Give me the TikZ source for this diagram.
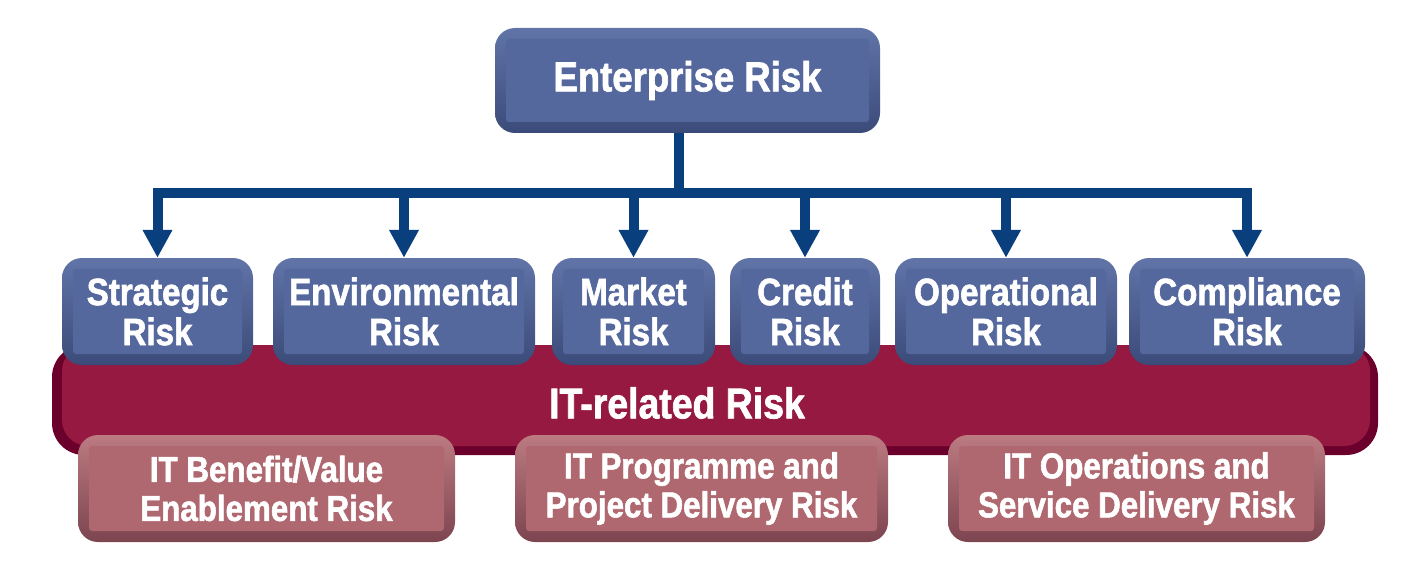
\documentclass[tikz,border=0pt]{standalone}
\usepackage{fontspec}
\setmainfont{Liberation Sans}[FakeStretch=0.87, BoldFeatures={FakeBold=1.6}]
\usetikzlibrary{arrows.meta}

\definecolor{linkblue}{HTML}{0A3F7E}
\definecolor{bluerimtop}{HTML}{6174A8}
\definecolor{bluerimbot}{HTML}{3B4B79}
\definecolor{blueface}{HTML}{55689D}
\definecolor{roserimtop}{HTML}{BC7A81}
\definecolor{roserimbot}{HTML}{7C4550}
\definecolor{roseface}{HTML}{AF686F}
\definecolor{bandrim}{HTML}{6C002C}
\definecolor{bandface}{HTML}{951941}

\begin{document}
\begin{tikzpicture}[x=1pt, y=-1pt,
        bevel/.style={rounded corners=20pt, inner sep=0pt, align=center, text=white,
            path picture={\fill[#1, rounded corners=3pt]
                ([shift={(11pt,-11pt)}]path picture bounding box.north west) rectangle
                ([shift={(-11pt,11pt)}]path picture bounding box.south east);}},
        riskbox/.style={bevel=blueface, top color=bluerimtop, bottom color=bluerimbot,
            minimum height=107pt, font=\bfseries\fontsize{38}{40}\selectfont},
        itbox/.style={bevel=roseface, top color=roserimtop, bottom color=roserimbot,
            minimum height=107pt, font=\bfseries\fontsize{36}{39}\selectfont},
        link/.style={draw=linkblue, line width=10pt}
    ]
    \useasboundingbox (0,0) rectangle (1411,575);

    % IT-related band (behind both rows)
    \node[fill=bandrim, rounded corners=32pt, minimum width=1326pt, minimum height=110pt,
        path picture={\fill[bandface, rounded corners=26pt]
            ([shift={(10pt,0pt)}]path picture bounding box.north west) rectangle
            ([shift={(-8pt,9pt)}]path picture bounding box.south east);}]
        (itband) at (715,400) {};
    \node[text=white, font=\bfseries\fontsize{43}{45}\selectfont] (itlabel) at (677,403) {IT-related Risk};

    % Top box
    \node[riskbox, minimum width=385pt, minimum height=105pt, font=\bfseries\fontsize{42}{44}\selectfont]
        (ent) at (687.5,80.5) {Enterprise Risk};

    % Risk categories
    \node[riskbox, minimum width=191pt] (strat) at (157.5,311.5) {Strategic\\Risk};
    \node[riskbox, minimum width=262pt] (env) at (404,311.5) {Environmental\\Risk};
    \node[riskbox, minimum width=163pt] (mkt) at (633.5,311.5) {Market\\Risk};
    \node[riskbox, minimum width=150pt] (cred) at (805,311.5) {Credit\\Risk};
    \node[riskbox, minimum width=222pt] (oper) at (1006,311.5) {Operational\\Risk};
    \node[riskbox, minimum width=236pt] (comp) at (1247,311.5) {Compliance\\Risk};

    % IT risk types
    \node[itbox, minimum width=377pt] (benefit) at (266.5,488.5) {IT Benefit/Value\\Enablement Risk};
    \node[itbox, minimum width=373pt] (prog) at (701.5,488.5) {IT Programme and\\Project Delivery Risk};
    \node[itbox, minimum width=377pt] (ops) at (1136.5,488.5) {IT Operations and\\Service Delivery Risk};

    % Connectors
    \coordinate (hub) at (679,193);
    \draw[link] (ent.south -| hub) -- (hub);
    \foreach \b in {strat,env,mkt,cred,oper,comp}
        \draw[link, -{Triangle[width=28pt,length=28pt]}] (hub) -| (\b.north);

\end{tikzpicture}
\end{document}
